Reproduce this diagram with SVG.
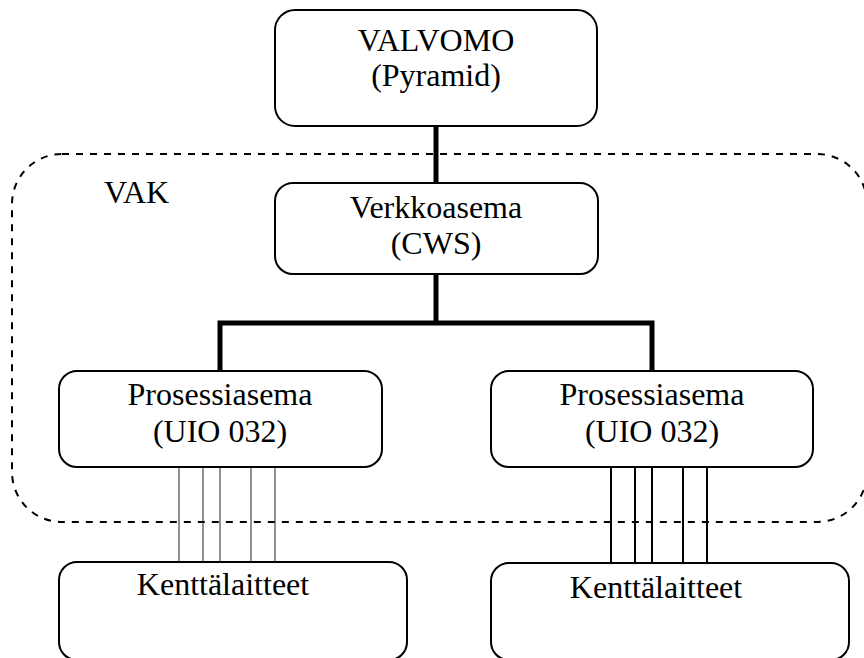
<svg xmlns="http://www.w3.org/2000/svg" width="864" height="658" viewBox="0 0 864 658">
<style>
.box{fill:#fff;stroke:#000;stroke-width:2}
.t{font-family:'Liberation Serif','DejaVu Serif','Times New Roman',Times,serif;font-size:32px;fill:#000;text-anchor:middle}
.bus{fill:none;stroke:#000;stroke-width:5}
.thin{stroke:#222;stroke-width:1}
.wire{stroke:#000;stroke-width:2}
</style>
<rect width="864" height="658" fill="#fff"/>
<g id="vak">
<rect x="12" y="154" width="855" height="368" rx="50" ry="50" fill="none" stroke="#000" stroke-width="2" stroke-dasharray="7 7"/>
<text class="t" x="104" y="203" style="text-anchor:start">VAK</text>
</g>
<g id="connectors">
<line class="bus" x1="436" y1="126" x2="436" y2="183"/>
<polyline class="bus" points="436,274 436,323"/>
<polyline class="bus" points="220,371 220,323 652,323 652,371"/>
<line class="thin" x1="179" y1="467" x2="179" y2="562"/>
<line class="thin" x1="203" y1="467" x2="203" y2="562"/>
<line class="thin" x1="220" y1="467" x2="220" y2="562"/>
<line class="thin" x1="251" y1="467" x2="251" y2="562"/>
<line class="thin" x1="275" y1="467" x2="275" y2="562"/>
<line class="wire" x1="611" y1="467" x2="611" y2="563"/>
<line class="wire" x1="635" y1="467" x2="635" y2="563"/>
<line class="wire" x1="652" y1="467" x2="652" y2="563"/>
<line class="wire" x1="683" y1="467" x2="683" y2="563"/>
<line class="wire" x1="707" y1="467" x2="707" y2="563"/>
</g>
<g id="valvomo">
<rect class="box" x="275" y="10" width="322" height="116" rx="20"/>
<text class="t" x="436" y="51">VALVOMO</text>
<text class="t" x="436" y="86">(Pyramid)</text>
</g>
<g id="verkkoasema">
<rect class="box" x="275" y="183" width="323" height="91" rx="18"/>
<text class="t" x="436" y="218">Verkkoasema</text>
<text class="t" x="436" y="254">(CWS)</text>
</g>
<g id="prosessiasema1">
<rect class="box" x="59" y="371" width="323" height="96" rx="18"/>
<text class="t" x="220" y="405">Prosessiasema</text>
<text class="t" x="220" y="442">(UIO 032)</text>
</g>
<g id="prosessiasema2">
<rect class="box" x="491" y="371" width="322" height="96" rx="18"/>
<text class="t" x="652" y="405">Prosessiasema</text>
<text class="t" x="652" y="442">(UIO 032)</text>
</g>
<g id="kenttalaitteet1">
<rect class="box" x="59" y="562" width="348" height="98" rx="18"/>
<text class="t" x="223" y="595">Kenttälaitteet</text>
</g>
<g id="kenttalaitteet2">
<rect class="box" x="491" y="563" width="358" height="97" rx="18"/>
<text class="t" x="656" y="598">Kenttälaitteet</text>
</g>
</svg>
